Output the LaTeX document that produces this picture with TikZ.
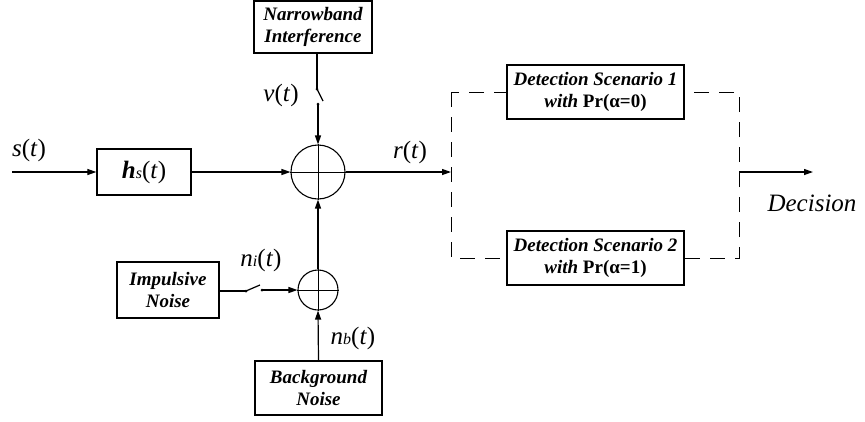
\documentclass[tikz,border=0pt]{standalone}
\usepackage{fontspec}
\setmainfont{Liberation Serif}
\usetikzlibrary{arrows.meta}
\newcommand\boxfont{\fontsize{19}{22}\selectfont\bfseries\itshape}
\newcommand\labfont{\fontsize{25}{28}\selectfont}
\newcommand\subfont{\fontsize{16}{18}\selectfont\itshape}
\begin{document}
\begin{tikzpicture}[x=1pt,y=-1pt,
  blk/.style={draw,line width=1.3pt,fill=white,inner sep=0pt,align=center,font=\boxfont},
  sumnode/.style={draw,circle,line width=1.1pt,inner sep=0pt},
  conn/.style={line width=1.2pt},
  arr/.style={conn,-{Triangle[length=9pt,width=6pt]}},
  lab/.style={inner sep=0pt,font=\labfont},
  dot/.style={circle,fill,inner sep=0pt,minimum size=3pt},
  dashbox/.style={line width=0.9pt,dash pattern=on 15pt off 10pt}]
\useasboundingbox (0,0) rectangle (865,421);
% dashed frame (behind detection boxes)
\coordinate (dl) at (451,172);
\coordinate (dr) at (739,172);
\draw[dashbox] (451,92) rectangle (739,258);
% blocks
\node[blk,minimum width=118pt,minimum height=52pt] (nbi) at (313,27) {Narrowband\\Interference};
\node[blk,minimum width=94pt,minimum height=46pt,font=\labfont] (hs) at (144,172) {\textbf{\textit{h}}{\subfont s}(\textit{t})};
\node[blk,minimum width=102pt,minimum height=56pt] (imp) at (168,290) {Impulsive\\Noise};
\node[blk,minimum width=127pt,minimum height=54pt] (bg) at (318.5,388) {Background\\Noise};
\node[blk,minimum width=177pt,minimum height=54pt] (det1) at (595.5,92) {Detection Scenario 1\\with \upshape Pr(α=0)};
\node[blk,minimum width=177pt,minimum height=54pt] (det2) at (595.5,258) {Detection Scenario 2\\with \upshape Pr(α=1)};
% summers
\node[sumnode,minimum size=54pt] (sum) at (318,172) {};
\draw[line width=1pt] (sum.north) -- (sum.south) (sum.west) -- (sum.east);
\node[sumnode,minimum size=40pt] (sm) at (318,290) {};
\draw[line width=1pt] (sm.north) -- (sm.south) (sm.west) -- (sm.east);
% switches
\node[dot] (s1a) at (317,89) {};
\node[dot] (s1b) at (318,104) {};
\coordinate (s1l) at (323,101);
\node[dot] (s2a) at (246,291) {};
\node[dot] (s2b) at (262,290) {};
\coordinate (s2l) at (260,285);
\coordinate (in) at (12,172);
\coordinate (dec) at (813,172);
% connectors
\draw[arr] (in) -- (hs.west);
\draw[arr] (hs.east) -- (sum.west);
\draw[conn] (nbi.south -| s1a) -- (s1a.center);
\draw[conn] (s1a.center) -- (s1l);
\draw[arr] (s1b.center) -- (sum.north);
\draw[conn] (imp.east |- s2a) -- (s2a.center);
\draw[conn] (s2a.center) -- (s2l);
\draw[arr] (s2b.center) -- (sm.west);
\draw[arr] (bg.north) -- (sm.south);
\draw[arr] (sm.north) -- (sum.south);
\draw[arr] (sum.east) -- (dl);
\draw[arr] (dr) -- (dec);
% labels
\node[lab] (ls) at (29,150) {\textit{s}(\textit{t})};
\node[lab] (lv) at (281,95) {\textit{v}(\textit{t})};
\node[lab] (lr) at (410,152) {\textit{r}(\textit{t})};
\node[lab] (lni) at (261,260) {\textit{n}{\subfont i}(\textit{t})};
\node[lab] (lnb) at (353,338) {\textit{n}{\subfont b}(\textit{t})};
\node[lab] (ldec) at (812,203) {\textit{Decision}};
\end{tikzpicture}
\end{document}
